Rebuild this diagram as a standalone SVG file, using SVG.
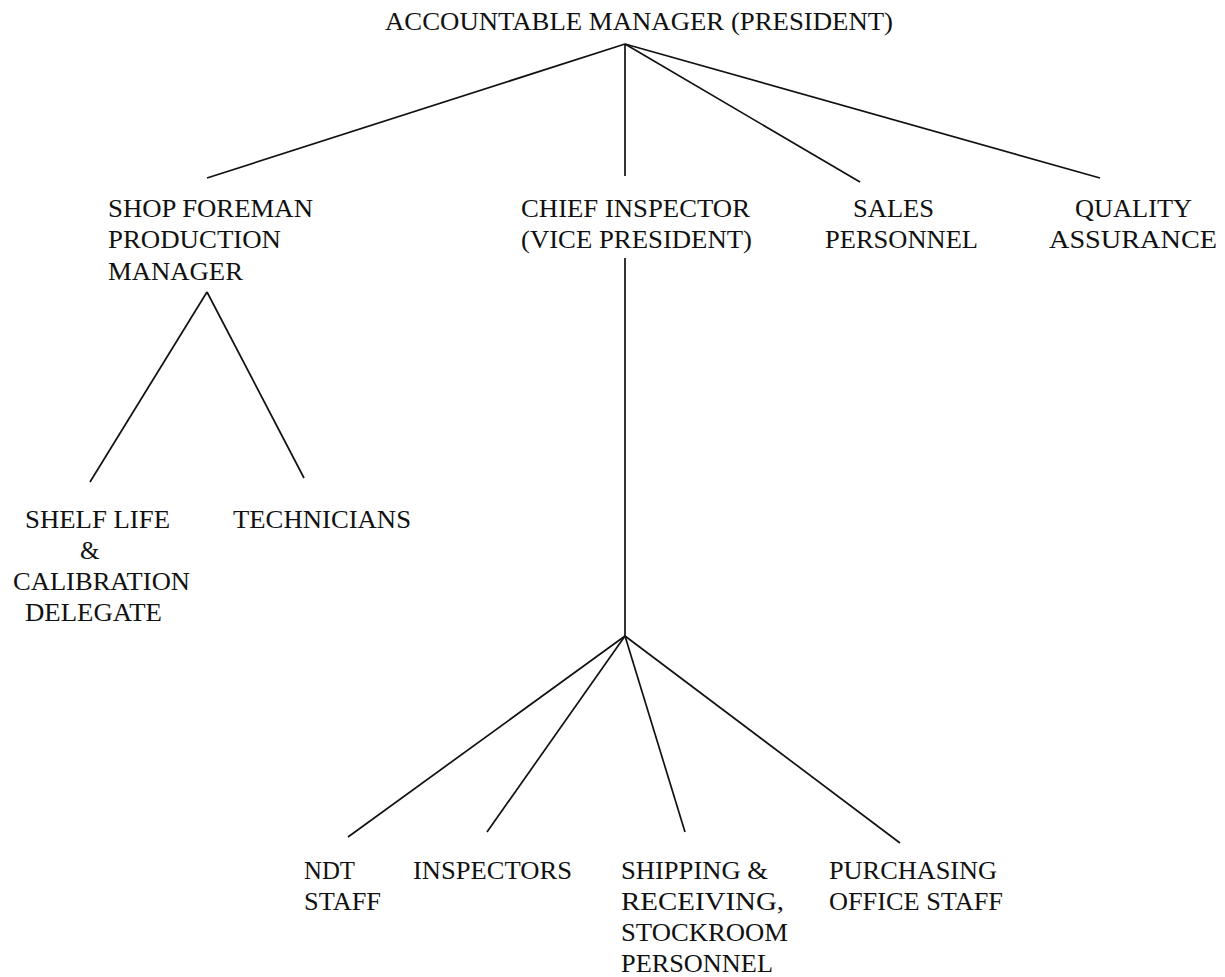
<svg xmlns="http://www.w3.org/2000/svg" width="1225" height="977" viewBox="0 0 1225 977">
<style>
text{font-family:"Liberation Serif","Times New Roman",serif;font-size:25px;fill:#111}
.c line{stroke:#111;stroke-width:1.7;fill:none}
</style>
<rect width="1225" height="977" fill="#fff"/>
<g class="c" id="connectors">
<line x1="625" y1="44" x2="207" y2="178"/>
<line x1="625" y1="44" x2="625" y2="176"/>
<line x1="625" y1="44" x2="860" y2="182"/>
<line x1="625" y1="44" x2="1100" y2="178"/>
<line x1="625" y1="258" x2="625" y2="636"/>
<line x1="207" y1="292" x2="90" y2="482"/>
<line x1="207" y1="292" x2="304" y2="478"/>
<line x1="625" y1="636" x2="348" y2="837"/>
<line x1="625" y1="636" x2="487" y2="832"/>
<line x1="625" y1="636" x2="685" y2="832"/>
<line x1="625" y1="636" x2="900" y2="843"/>
</g>
<g id="president"><text x="385" y="30" textLength="508" lengthAdjust="spacingAndGlyphs">ACCOUNTABLE MANAGER (PRESIDENT)</text></g>
<g id="shop-foreman">
<text x="108" y="217" textLength="205" lengthAdjust="spacingAndGlyphs">SHOP FOREMAN</text>
<text x="108" y="248" textLength="173" lengthAdjust="spacingAndGlyphs">PRODUCTION</text>
<text x="108" y="280" textLength="135" lengthAdjust="spacingAndGlyphs">MANAGER</text>
</g>
<g id="chief-inspector">
<text x="521" y="217" textLength="229" lengthAdjust="spacingAndGlyphs">CHIEF INSPECTOR</text>
<text x="521" y="248" textLength="231" lengthAdjust="spacingAndGlyphs">(VICE PRESIDENT)</text>
</g>
<g id="sales">
<text x="853" y="217" textLength="81" lengthAdjust="spacingAndGlyphs">SALES</text>
<text x="825" y="248" textLength="153" lengthAdjust="spacingAndGlyphs">PERSONNEL</text>
</g>
<g id="quality">
<text x="1075" y="217" textLength="117" lengthAdjust="spacingAndGlyphs">QUALITY</text>
<text x="1049" y="248" textLength="168" lengthAdjust="spacingAndGlyphs">ASSURANCE</text>
</g>
<g id="shelf-life">
<text x="25" y="528" textLength="145" lengthAdjust="spacingAndGlyphs">SHELF LIFE</text>
<text x="80" y="559">&amp;</text>
<text x="13" y="590" textLength="177" lengthAdjust="spacingAndGlyphs">CALIBRATION</text>
<text x="25" y="621" textLength="137" lengthAdjust="spacingAndGlyphs">DELEGATE</text>
</g>
<g id="technicians"><text x="233" y="528" textLength="178" lengthAdjust="spacingAndGlyphs">TECHNICIANS</text></g>
<g id="ndt">
<text x="304" y="879" textLength="51" lengthAdjust="spacingAndGlyphs">NDT</text>
<text x="304" y="910" textLength="77" lengthAdjust="spacingAndGlyphs">STAFF</text>
</g>
<g id="inspectors"><text x="413" y="879" textLength="159" lengthAdjust="spacingAndGlyphs">INSPECTORS</text></g>
<g id="shipping">
<text x="621" y="879" textLength="147" lengthAdjust="spacingAndGlyphs">SHIPPING &amp;</text>
<text x="621" y="910" textLength="163" lengthAdjust="spacingAndGlyphs">RECEIVING,</text>
<text x="621" y="941" textLength="167" lengthAdjust="spacingAndGlyphs">STOCKROOM</text>
<text x="621" y="972" textLength="152" lengthAdjust="spacingAndGlyphs">PERSONNEL</text>
</g>
<g id="purchasing">
<text x="829" y="879" textLength="168" lengthAdjust="spacingAndGlyphs">PURCHASING</text>
<text x="829" y="910" textLength="174" lengthAdjust="spacingAndGlyphs">OFFICE STAFF</text>
</g>
</svg>
